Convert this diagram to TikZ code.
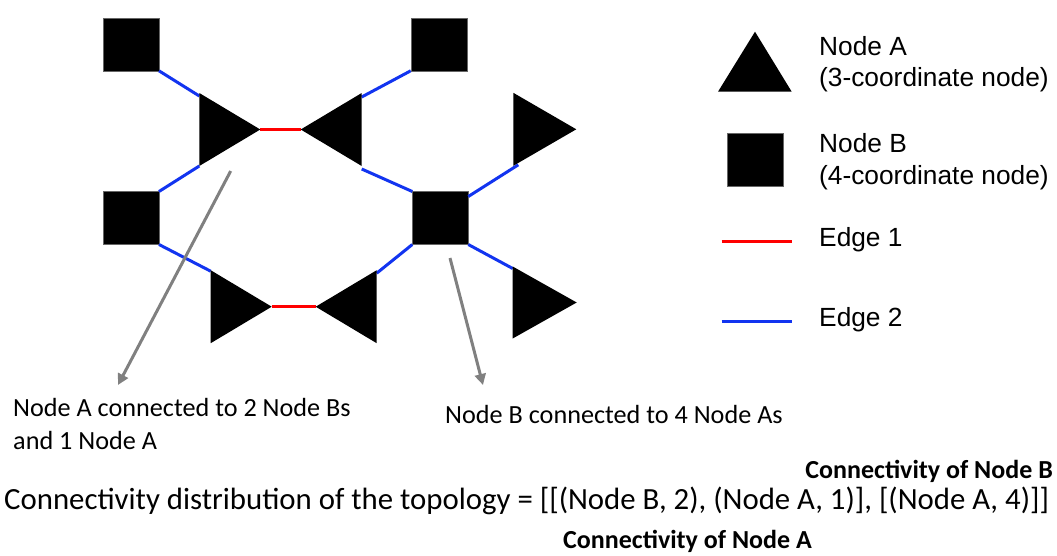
\documentclass[tikz,border=0pt]{standalone}
\usepackage{fontspec}
\setmainfont{Carlito}
\newfontfamily\calfont{Carlito}
\newfontfamily\arlfont{Liberation Sans}
\usetikzlibrary{arrows.meta}
\definecolor{edgeblue}{RGB}{18,52,240}
\definecolor{edgered}{RGB}{255,0,0}
\definecolor{annogray}{RGB}{128,128,128}
\tikzset{
  nodeB/.style={fill=black, draw=black!60, line width=0.4pt, minimum width=56pt, minimum height=53pt, inner sep=0pt, outer sep=0pt},
  nodeAshape/.style={fill=black},
  edgeone/.style={draw=edgered, line width=3pt},
  edgetwo/.style={draw=edgeblue, line width=3pt},
  anno/.style={draw=annogray, line width=3pt, -{Triangle[length=11pt,width=11pt]}},
  legtext/.style={font=\arlfont\fontsize{26.3}{31}\selectfont, inner sep=0pt, anchor=base west},
  caltext/.style={font=\calfont\fontsize{26.2}{30}\selectfont, inner sep=0pt},
  maintext/.style={font=\calfont\fontsize{30.8}{34}\selectfont, inner sep=0pt},
  boldtext/.style={font=\calfont\bfseries\fontsize{26}{30}\selectfont, inner sep=0pt},
}
\begin{document}
\begin{tikzpicture}[x=1pt,y=-1pt]
\useasboundingbox (0,0) rectangle (1057,555);
% Node B squares
\node[nodeB] (b1) at (131,44.3) {};
\node[nodeB] (b2) at (438.7,44.3) {};
\node[nodeB] (b3) at (131,218) {};
\node[nodeB] (b4) at (440.3,218) {};
% Node A triangle corners: t = top corner, p = point, b = bottom corner
\path (199.3,{129.5-36.5}) coordinate (a1-t) ({199.3+61},129.5) coordinate (a1-p) (199.3,{129.5+36.5}) coordinate (a1-b);
\path (361.7,{129.5-36.5}) coordinate (a2-t) ({361.7-61},129.5) coordinate (a2-p) (361.7,{129.5+36.5}) coordinate (a2-b);
\path (513.3,{129.3-36.5}) coordinate (a3-t) ({513.3+63},129.3) coordinate (a3-p) (513.3,{129.3+36.5}) coordinate (a3-b);
\path (210.7,{306.7-36.5}) coordinate (a4-t) ({210.7+61},306.7) coordinate (a4-p) (210.7,{306.7+36.5}) coordinate (a4-b);
\path (376.7,{306.7-36.5}) coordinate (a5-t) ({376.7-61},306.7) coordinate (a5-p) (376.7,{306.7+36.5}) coordinate (a5-b);
\path (512.7,{302.5-36}) coordinate (a6-t) ({512.7+64},302.5) coordinate (a6-p) (512.7,{302.5+36}) coordinate (a6-b);
% edges (drawn below the shapes)
\draw[edgetwo] (b1.south east) -- ([yshift=-3pt]a1-t);
\draw[edgetwo] (a1-b) -- (b3.north east);
\draw[edgetwo] (b2.south west) -- ([yshift=-4pt]a2-t);
\draw[edgetwo] ([yshift=-3pt]a2-b) -- (b4.north west);
\draw[edgetwo] ([yshift=-5pt]b4.north east) -- ([xshift=5pt,yshift=1pt]a3-b);
\draw[edgetwo] (b3.south east) -- ([yshift=-1pt]a4-t);
\draw[edgetwo] (b4.south west) -- ([yshift=-3pt]a5-t);
\draw[edgetwo] (b4.south east) -- ([yshift=-2pt]a6-t);
\draw[edgeone] (a1-p) -- (a2-p);
\draw[edgeone] (a4-p) -- (a5-p);
% Node A triangles
\foreach \n in {a1,a2,a3,a4,a5,a6}{
  \fill[nodeAshape] (\n-t) -- (\n-p) -- (\n-b) -- cycle;
}
% annotation arrows
\coordinate (arrAstart) at (230.7,171);
\coordinate (arrAend) at (118,385);
\coordinate (arrBstart) at (450,258);
\coordinate (arrBend) at (483,385);
\draw[anno] (arrAstart) -- (arrAend);
\draw[anno] (arrBstart) -- (arrBend);
% annotation texts
\node[caltext, anchor=base west, align=left] (txtA) at (13,449) {Node A connected to 2 Node Bs\\[3pt]and 1 Node A};
\node[caltext, anchor=base west] (txtB) at (445,423) {Node B connected to 4 Node As};
% formula
\node[boldtext, anchor=base east] (connB) at (1053,478) {Connectivity of Node B};
\node[maintext, anchor=base west] (formula) at (4,509) {Connectivity distribution of the topology = [[(Node B, 2), (Node A, 1)], [(Node A, 4)]]};
\node[boldtext, anchor=base west] (connA) at (563,548) {Connectivity of Node A};
% legend
\fill (718,91.7) coordinate (legA-l) -- (755,31.7) coordinate (legA-t) -- (791.7,91.7) coordinate (legA-r) -- cycle;
\node[nodeB] (legB) at (754.7,159.2) {};
\coordinate (leg1a) at (721.7,241.7);
\coordinate (leg1b) at (791.7,241.7);
\coordinate (leg2a) at (721.7,321.7);
\coordinate (leg2b) at (791.7,321.7);
\draw[edgeone] (leg1a) -- (leg1b);
\draw[edgetwo] (leg2a) -- (leg2b);
\node[legtext] (legAt1) at (819,55) {Node A};
\node[legtext] (legAt2) at (819,86.7) {(3-coordinate node)};
\node[legtext] (legBt1) at (819,152.7) {Node B};
\node[legtext] (legBt2) at (819,184.3) {(4-coordinate node)};
\node[legtext] (leg1t) at (819,246.7) {Edge 1};
\node[legtext] (leg2t) at (819,326.7) {Edge 2};
\end{tikzpicture}
\end{document}
